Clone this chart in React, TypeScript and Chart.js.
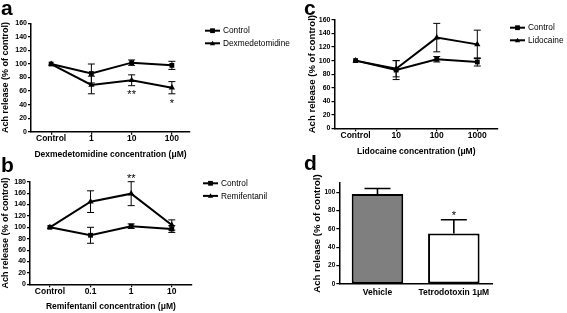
import React, { useEffect, useRef } from 'react';
import { Chart, registerables } from 'chart.js';

Chart.register(...registerables);

const W = 567;
const H = 313;
const FONT = "'Liberation Sans', Arial, Helvetica, sans-serif";
Chart.defaults.color = '#000';
Chart.defaults.font.family = FONT;

// ---- Panel a: Dexmedetomidine ----
const dexCategories = ['Control', '1', '10', '100'];
const dexControl = [100, 86, 102, 98];
const dexControlErr = [0, 14, 4, 6];
const dexValues = [100, 69, 76, 65];
const dexErr = [0, 13, 8, 9];
const dexSig = ['', '', '**', '*'];

// ---- Panel b: Remifentanil ----
const remiCategories = ['Control', '0.1', '1', '10'];
const remiControl = [100, 86, 102, 97];
const remiControlErr = [0, 14, 4, 6];
const remiValues = [100, 145, 159, 104];
const remiErr = [0, 19, 21, 9];
const remiSig = ['', '', '**', ''];

// ---- Panel c: Lidocaine ----
const lidoCategories = ['Control', '10', '100', '1000'];
const lidoControl = [100, 86, 102, 98];
const lidoControlErr = [0, 14, 4, 6];
const lidoValues = [100, 88, 134, 124];
const lidoErr = [0, 12, 21, 21];
const lidoSig = ['', '', '', ''];

// ---- Panel d: Tetrodotoxin ----
const ttxCategories = ['Vehicle', 'Tetrodotoxin 1\u03bcM'];
const ttxValues = [98, 55];
const ttxErr = [6, 15];
const ttxSig = ['', '*'];

const yTitle = 'Ach release (% of control)';

const errorBarPlugin = {
  id: 'errorBars',
  afterDatasetsDraw(chart: any) {
    const ctx = chart.ctx;
    const ys = chart.scales.y;
    chart.data.datasets.forEach((ds: any, di: number) => {
      if (!ds.errors) return;
      const meta = chart.getDatasetMeta(di);
      meta.data.forEach((el: any, i: number) => {
        const e = ds.errors[i];
        if (!e) return;
        const v = meta.controller.getParsed(i).y;
        const top = ys.getPixelForValue(v + e);
        const bot = ys.getPixelForValue(ds.errUpOnly ? v : v - e);
        const cap = ds.capHalf;
        ctx.save();
        ctx.strokeStyle = '#000';
        ctx.lineWidth = ds.errWidth;
        ctx.beginPath();
        ctx.moveTo(el.x, top);
        ctx.lineTo(el.x, bot);
        ctx.moveTo(el.x - cap, top);
        ctx.lineTo(el.x + cap, top);
        if (!ds.errUpOnly) {
          ctx.moveTo(el.x - cap, bot);
          ctx.lineTo(el.x + cap, bot);
        }
        ctx.stroke();
        ctx.restore();
      });
    });
  },
};

const sigPlugin = {
  id: 'sigStars',
  afterDatasetsDraw(chart: any) {
    const ctx = chart.ctx;
    const ys = chart.scales.y;
    chart.data.datasets.forEach((ds: any, di: number) => {
      if (!ds.sig) return;
      const meta = chart.getDatasetMeta(di);
      meta.data.forEach((el: any, i: number) => {
        const s = ds.sig[i];
        if (!s) return;
        const v = meta.controller.getParsed(i).y;
        const e = ds.errors ? ds.errors[i] : 0;
        const py = ys.getPixelForValue(ds.sigDir === 'below' ? v - e : v + e);
        ctx.save();
        ctx.font = `11px ${FONT}`;
        ctx.fillStyle = '#000';
        ctx.textAlign = 'center';
        ctx.textBaseline = 'alphabetic';
        ctx.fillText(s, el.x, py + ds.sigShift);
        ctx.restore();
      });
    });
  },
};

function drawMarker(ctx: CanvasRenderingContext2D, style: string, x: number, y: number, r: number) {
  ctx.beginPath();
  if (style === 'rect') {
    ctx.rect(x - r, y - r, 2 * r, 2 * r);
  } else {
    ctx.moveTo(x, y - r * 1.1);
    ctx.lineTo(x + r * 1.1, y + r * 0.8);
    ctx.lineTo(x - r * 1.1, y + r * 0.8);
    ctx.closePath();
  }
  ctx.fill();
}

function decoPlugin(letter: string, lx: number, ly: number, legend?: { x: number; y: number; items: { label: string; style: string }[] }) {
  return {
    id: 'deco',
    afterDraw(chart: any) {
      const ctx = chart.ctx;
      ctx.save();
      ctx.fillStyle = '#000';
      ctx.font = `bold 21px ${FONT}`;
      ctx.textAlign = 'left';
      ctx.textBaseline = 'alphabetic';
      ctx.fillText(letter, lx, ly);
      if (legend) {
        legend.items.forEach((it, k) => {
          const y = legend.y + k * 12.6;
          ctx.strokeStyle = '#000';
          ctx.lineWidth = 2;
          ctx.beginPath();
          ctx.moveTo(legend.x, y);
          ctx.lineTo(legend.x + 15, y);
          ctx.stroke();
          drawMarker(ctx, it.style, legend.x + 7.5, y, 2.4);
          ctx.font = `8.3px ${FONT}`;
          ctx.textBaseline = 'middle';
          ctx.fillText(it.label, legend.x + 18, y + 0.5);
        });
      }
      ctx.restore();
    },
  };
}

type LinePanel = {
  letter: string;
  letterX: number;
  letterY: number;
  categories: string[];
  control: number[];
  controlErr: number[];
  drug: number[];
  drugErr: number[];
  drugLabel: string;
  sig: string[];
  sigDir: string;
  sigShift: number;
  xTitle: string;
  yMax: number;
  yStep: number;
  xMin: number;
  xMax: number;
  pad: { left: number; right: number; top: number; bottom: number };
  yWidth: number;
  xHeight: number;
  yTitleSize: number;
  legendX: number;
  legendY: number;
};

function lineConfig(p: LinePanel): any {
  const pts = (arr: number[]) => arr.map((v, i) => ({ x: i, y: v }));
  const common = {
    borderColor: '#000',
    backgroundColor: '#000',
    borderWidth: 2,
    pointRadius: 3.4,
    pointBorderWidth: 0,
    pointBackgroundColor: '#000',
    tension: 0,
    capHalf: 3.5,
    errWidth: 1,
    clip: false,
  };
  return {
    type: 'line',
    data: {
      datasets: [
        { ...common, label: 'Control', data: pts(p.control), errors: p.controlErr, pointStyle: 'rect' },
        {
          ...common,
          label: p.drugLabel,
          data: pts(p.drug),
          errors: p.drugErr,
          pointStyle: 'triangle',
          pointRadius: 3.6,
          sig: p.sig,
          sigDir: p.sigDir,
          sigShift: p.sigShift,
        },
      ],
    },
    options: {
      responsive: false,
      animation: false,
      devicePixelRatio: 1,
      layout: { padding: p.pad },
      plugins: { legend: { display: false }, tooltip: { enabled: false } },
      scales: {
        x: {
          type: 'linear',
          position: 'bottom',
          min: p.xMin,
          max: p.xMax,
          afterBuildTicks: (s: any) => {
            s.ticks = p.categories.map((_, i) => ({ value: i }));
          },
          afterFit: (s: any) => {
            s.height = p.xHeight;
          },
          ticks: {
            autoSkip: false,
            maxRotation: 0,
            color: '#000',
            padding: 0,
            font: { family: FONT, size: 8.5, weight: 'bold', lineHeight: 1 },
            callback: (v: any) => p.categories[v] ?? '',
          },
          grid: { drawOnChartArea: false, drawTicks: true, tickLength: 3, color: '#000', lineWidth: 1.2 },
          border: { display: true, color: '#000', width: 1.5 },
          title: {
            display: true,
            text: p.xTitle,
            color: '#000',
            padding: 0,
            font: { family: FONT, size: 8.5, weight: 'bold' },
          },
        },
        y: {
          type: 'linear',
          position: 'left',
          min: 0,
          max: p.yMax,
          afterFit: (s: any) => {
            s.width = p.yWidth;
          },
          ticks: {
            stepSize: p.yStep,
            color: '#000',
            padding: 1,
            font: { family: FONT, size: 7, weight: 'bold' },
          },
          grid: { drawOnChartArea: false, drawTicks: true, tickLength: 3, color: '#000', lineWidth: 1.2 },
          border: { display: true, color: '#000', width: 1.5 },
          title: {
            display: true,
            text: yTitle,
            color: '#000',
            padding: 0,
            font: { family: FONT, size: p.yTitleSize, weight: 'bold' },
          },
        },
      },
    },
    plugins: [
      errorBarPlugin,
      sigPlugin,
      decoPlugin(p.letter, p.letterX, p.letterY, {
        x: p.legendX,
        y: p.legendY,
        items: [
          { label: 'Control', style: 'rect' },
          { label: p.drugLabel, style: 'triangle' },
        ],
      }),
    ],
  };
}

const panelA: LinePanel = {
  letter: 'a', letterX: 1, letterY: 15,
  categories: dexCategories, control: dexControl, controlErr: dexControlErr,
  drug: dexValues, drugErr: dexErr, drugLabel: 'Dexmedetomidine',
  sig: dexSig, sigDir: 'below', sigShift: 12.8,
  xTitle: 'Dexmedetomidine concentration (\u03bcM)',
  yMax: 160, yStep: 20, xMin: -0.5, xMax: 3.45,
  pad: { left: 0, right: 377, top: 23.4, bottom: 152.9 },
  yWidth: 31, xHeight: 28.4, yTitleSize: 9,
  legendX: 205, legendY: 30.7,
};

const panelB: LinePanel = {
  letter: 'b', letterX: 1, letterY: 172,
  categories: remiCategories, control: remiControl, controlErr: remiControlErr,
  drug: remiValues, drugErr: remiErr, drugLabel: 'Remifentanil',
  sig: remiSig, sigDir: 'above', sigShift: 0.3,
  xTitle: 'Remifentanil concentration (\u03bcM)',
  yMax: 180, yStep: 20, xMin: -0.49, xMax: 3.49,
  pad: { left: 0, right: 375.3, top: 181.7, bottom: 1.2 },
  yWidth: 30, xHeight: 27.5, yTitleSize: 9,
  legendX: 203, legendY: 183.3,
};

const panelC: LinePanel = {
  letter: 'c', letterX: 304, letterY: 15,
  categories: lidoCategories, control: lidoControl, controlErr: lidoControlErr,
  drug: lidoValues, drugErr: lidoErr, drugLabel: 'Lidocaine',
  sig: lidoSig, sigDir: 'above', sigShift: 0,
  xTitle: 'Lidocaine concentration (\u03bcM)',
  yMax: 160, yStep: 20, xMin: -0.52, xMax: 3.51,
  pad: { left: 306.1, right: 69, top: 20, bottom: 156.2 },
  yWidth: 28.4, xHeight: 28.5, yTitleSize: 9.6,
  legendX: 510, legendY: 27.7,
};

function barConfig(): any {
  return {
    type: 'bar',
    data: {
      labels: ttxCategories,
      datasets: [
        {
          data: ttxValues,
          errors: ttxErr,
          errUpOnly: true,
          capHalf: 13,
          errWidth: 1.6,
          sig: ttxSig,
          sigDir: 'above',
          sigShift: -0.7,
          backgroundColor: ['#7f7f7f', '#ffffff'],
          borderColor: '#000',
          borderWidth: 2,
          borderSkipped: false,
          barPercentage: 0.675,
          categoryPercentage: 1,
        },
      ],
    },
    options: {
      responsive: false,
      animation: false,
      devicePixelRatio: 1,
      layout: { padding: { left: 311.3, right: 75, top: 183, bottom: 0 } },
      plugins: { legend: { display: false }, tooltip: { enabled: false } },
      scales: {
        x: {
          afterFit: (s: any) => {
            s.height = 29;
          },
          ticks: {
            color: '#000',
            padding: 4,
            maxRotation: 0,
            autoSkip: false,
            font: { family: FONT, size: 8.5, weight: 'bold', lineHeight: 1 },
          },
          grid: { drawOnChartArea: false, drawTicks: false },
          border: { display: true, color: '#000', width: 1.5 },
        },
        y: {
          min: 0,
          max: 110,
          afterFit: (s: any) => {
            s.width = 28;
          },
          ticks: {
            stepSize: 10,
            color: '#000',
            padding: 1,
            font: { family: FONT, size: 6.5, weight: 'bold' },
          },
          grid: { drawOnChartArea: false, drawTicks: true, tickLength: 3, color: '#000', lineWidth: 1.2 },
          border: { display: true, color: '#000', width: 1.5 },
          title: {
            display: true,
            text: yTitle,
            color: '#000',
            padding: 0,
            font: { family: FONT, size: 9.6, weight: 'bold' },
          },
        },
      },
    },
    plugins: [errorBarPlugin, sigPlugin, decoPlugin('d', 304, 170)],
  };
}

function ChartCanvas({ make }: { make: () => any }) {
  const ref = useRef<HTMLCanvasElement | null>(null);
  useEffect(() => {
    if (!ref.current) return;
    const chart = new Chart(ref.current, make());
    return () => chart.destroy();
  }, []);
  return (
    <canvas
      ref={ref}
      width={W}
      height={H}
      style={{ position: 'absolute', left: 0, top: 0, width: W, height: H }}
    />
  );
}

export default function App() {
  return (
    <div
      style={{
        position: 'fixed',
        left: 0,
        top: 0,
        width: W,
        height: H,
        background: '#fff',
        overflow: 'hidden',
      }}
    >
      <ChartCanvas make={() => lineConfig(panelA)} />
      <ChartCanvas make={() => lineConfig(panelC)} />
      <ChartCanvas make={() => lineConfig(panelB)} />
      <ChartCanvas make={barConfig} />
    </div>
  );
}
